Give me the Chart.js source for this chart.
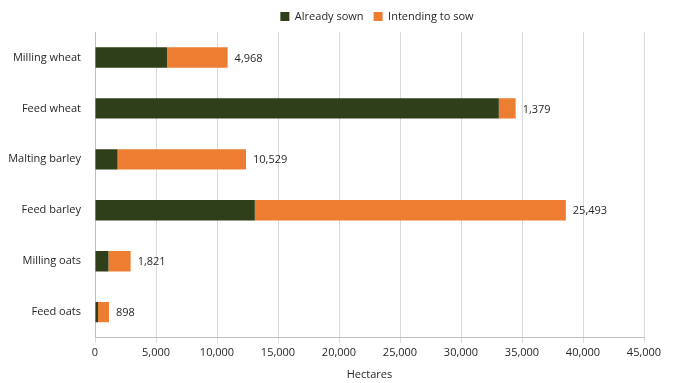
<!DOCTYPE html>
<html>
<head>
<meta charset="utf-8">
<script src="https://cdn.jsdelivr.net/npm/chart.js@4/dist/chart.umd.min.js"></script>
<style>
  html, body { margin: 0; padding: 0; background: #fff; }
  #wrap { width: 676px; height: 383px; }
</style>
</head>
<body>
<div id="wrap"><canvas id="myChart" width="676" height="383"></canvas></div>
<script>
const categories = ["Milling wheat", "Feed wheat", "Malting barley", "Feed barley", "Milling oats", "Feed oats"];
const alreadySown = [5900, 33100, 1850, 13100, 1100, 250];
const intendingToSow = [4968, 1379, 10529, 25493, 1821, 898];
const xTicks = [0, 5000, 10000, 15000, 20000, 25000, 30000, 35000, 40000, 45000];

const fontFamily = "'Open Sans', 'Liberation Sans', sans-serif";
const textColor = "#262626";

// labels with the "intending" figure to the right of each stack
const endLabels = {
  id: "endLabels",
  afterDatasetsDraw(chart) {
    const ctx = chart.ctx;
    const meta = chart.getDatasetMeta(1);
    ctx.save();
    ctx.font = "11px " + fontFamily;
    ctx.fillStyle = textColor;
    ctx.textAlign = "left";
    ctx.textBaseline = "middle";
    meta.data.forEach((bar, i) => {
      ctx.fillText(intendingToSow[i].toLocaleString("en-US"), bar.x + 7, bar.y + 1);
    });
    ctx.restore();
  }
};

// nudge the legend to sit over the plot like the original
const legendShift = {
  id: "legendShift",
  afterLayout(chart) {
    chart.legend.left += 52;
    chart.legend.right += 52;
  }
};

const ctx = document.getElementById("myChart").getContext("2d");
const myChart = new Chart(ctx, {
  type: "bar",
  data: {
    labels: categories,
    datasets: [
      {
        label: "Already sown",
        data: alreadySown,
        backgroundColor: "#2e3f19",
        barPercentage: 0.4,
        categoryPercentage: 1
      },
      {
        label: "Intending to sow",
        data: intendingToSow,
        backgroundColor: "#ed7d31",
        barPercentage: 0.4,
        categoryPercentage: 1
      }
    ]
  },
  options: {
    indexAxis: "y",
    responsive: false,
    animation: false,
    layout: { padding: { left: 6, right: 32, top: 1, bottom: 2 } },
    plugins: {
      legend: {
        position: "top",
        labels: {
          boxWidth: 9,
          boxHeight: 9,
          padding: 10,
          color: textColor,
          font: { family: fontFamily, size: 11 }
        }
      },
      tooltip: { enabled: false }
    },
    scales: {
      x: {
        stacked: true,
        min: 0,
        max: 45000,
        afterBuildTicks(axis) {
          axis.ticks = xTicks.map(v => ({ value: v }));
        },
        ticks: {
          color: textColor,
          font: { family: fontFamily, size: 11 },
          maxRotation: 0,
          padding: 4,
          callback: v => v.toLocaleString("en-US")
        },
        grid: { color: "#d9d9d9", tickLength: 5 },
        border: { color: "#bfbfbf" },
        title: {
          display: true,
          text: "Hectares",
          color: textColor,
          font: { family: fontFamily, size: 11 },
          padding: { top: 4, bottom: 0 }
        }
      },
      y: {
        stacked: true,
        afterFit(axis) {
          axis.width = 89;
        },
        ticks: {
          color: textColor,
          font: { family: fontFamily, size: 11 },
          padding: 14
        },
        grid: { display: false, drawTicks: false },
        border: { color: "#bfbfbf" }
      }
    }
  },
  plugins: [endLabels, legendShift]
});
</script>
</body>
</html>
